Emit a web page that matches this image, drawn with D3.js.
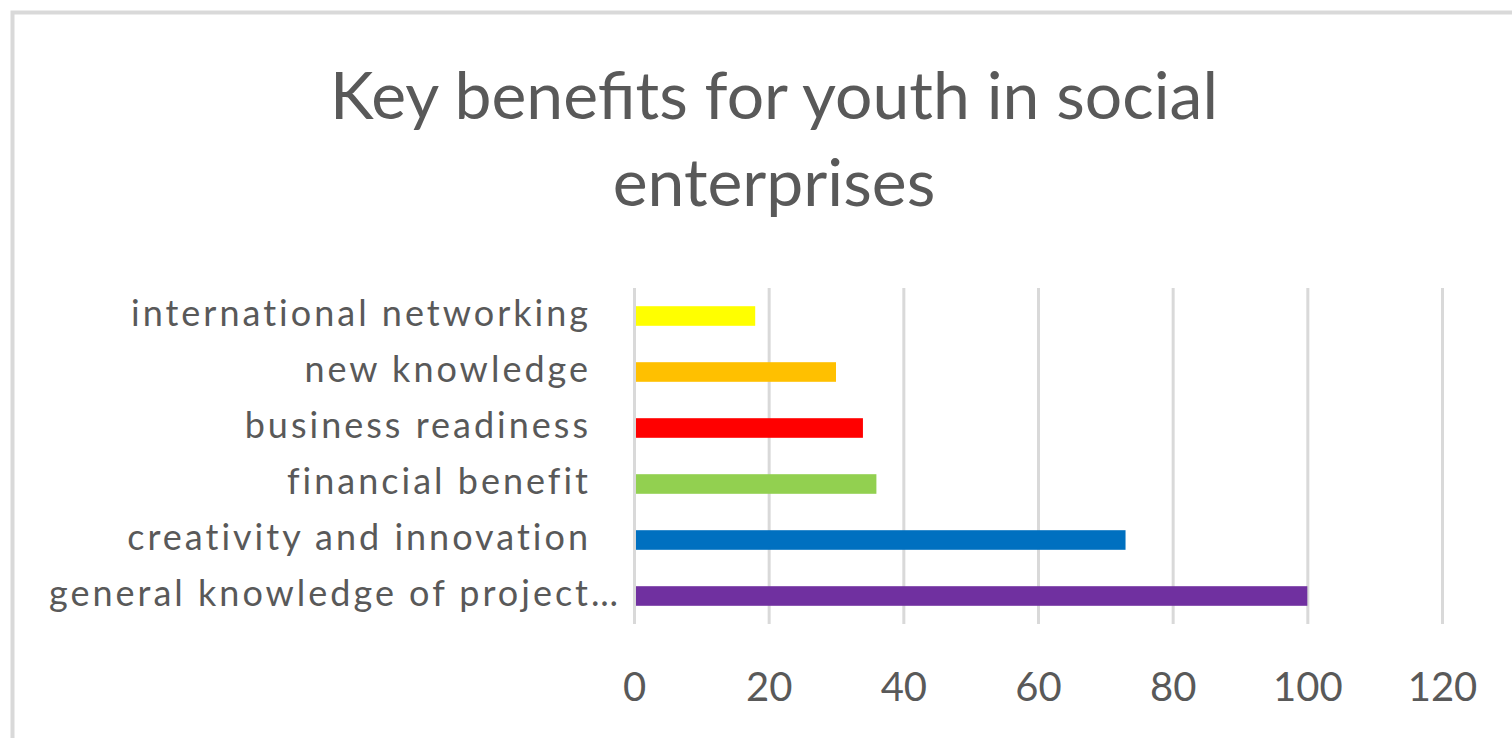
<!DOCTYPE html>
<html>
<head>
<meta charset="utf-8">
<script src="https://cdn.jsdelivr.net/npm/d3@7"></script>
<style>
  body { margin: 0; background: #fff; }
  text { font-family: Lato, "Open Sans", sans-serif; fill: #595959; }
</style>
</head>
<body>
<div id="chart"></div>
<script>
// data, top to bottom
var categories = ["international networking", "new knowledge", "business readiness",
                  "financial benefit", "creativity and innovation", "general knowledge of project\u2026"]
var values = [18, 30, 34, 36, 73, 100]
var colors = ["#FFFF00", "#FFC000", "#FF0000", "#92D050", "#0070C0", "#7030A0"]
var xTicks = [0, 20, 40, 60, 80, 100, 120]
var titleLines = ["Key benefits for youth in social", "enterprises"]

var width = 1512
var height = 738
var margin = { top: 288, left: 634, right: 70, bottom: 114 }

var svg = d3.select("#chart")
  .append("svg")
  .attr("width", width)
  .attr("height", height)

// chart frame (runs off the right and bottom)
svg.append("rect")
  .attr("x", 12.5)
  .attr("y", 12.5)
  .attr("width", width + 20)
  .attr("height", height + 20)
  .attr("fill", "none")
  .attr("stroke", "#d9d9d9")
  .attr("stroke-width", 4)

// title
svg.append("g").selectAll("text")
  .data(titleLines)
  .enter()
  .append("text")
  .attr("x", 774)
  .attr("y", function (d, i) { return 119 + i * 87 })
  .attr("text-anchor", "middle")
  .style("font-size", "66px")
  .text(function (d) { return d })

var x = d3.scaleLinear()
  .domain([0, 120])
  .range([0, 808])

var y = d3.scaleBand()
  .domain(categories)
  .range([0, 336])
  .paddingInner(0.65)
  .paddingOuter(0.325)

var g = svg.append("g")
  .attr("transform", "translate(" + margin.left + "," + margin.top + ")")

// vertical grid lines
g.append("g")
  .attr("class", "grid")
  .call(d3.axisBottom(x)
    .tickValues(xTicks)
    .tickSize(336)
    .tickFormat(""))
  .call(function (a) { a.select(".domain").remove() })
  .selectAll("line")
  .attr("stroke", "#d9d9d9")
  .attr("stroke-width", 3)

// bars
g.selectAll(".bar")
  .data(values)
  .enter()
  .append("rect")
  .attr("class", "bar")
  .attr("x", x(0) + 2)
  .attr("y", function (d, i) { return y(categories[i]) })
  .attr("width", function (d) { return x(d) - x(0) - 2 })
  .attr("height", y.bandwidth())
  .attr("fill", function (d, i) { return colors[i] })

// x tick labels
var xAxis = g.append("g")
  .attr("transform", "translate(0," + 336 + ")")
  .call(d3.axisBottom(x)
    .tickValues(xTicks)
    .tickSize(0)
    .tickPadding(0))
xAxis.select(".domain").remove()
xAxis.selectAll("text")
  .attr("dy", 0)
  .attr("y", 77)
  .style("font-size", "40px")
  .style("font-family", "Lato, sans-serif")
  .attr("fill", "#595959")

// category labels (Excel spreads the letters out a bit)
var yAxis = g.append("g")
  .call(d3.axisLeft(y)
    .tickSize(0)
    .tickPadding(43))
yAxis.select(".domain").remove()
yAxis.selectAll("text")
  .attr("dy", 10)
  .attr("dx", function (d, i) { return i == categories.length - 1 ? 30 : 0 })
  .style("font-size", "36px")
  .style("letter-spacing", "3px")
  .style("font-family", "Lato, sans-serif")
  .attr("fill", "#595959")
</script>
</body>
</html>
